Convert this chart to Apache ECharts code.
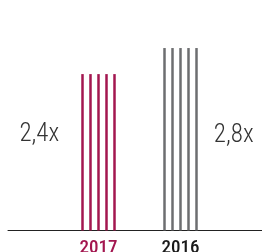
<!DOCTYPE html>
<html>
<head>
<meta charset="utf-8">
<script src="https://cdn.jsdelivr.net/npm/echarts@6/dist/echarts.min.js"></script>
<style>
  html, body { margin: 0; padding: 0; background: #fff; }
  #chart { width: 262px; height: 252px; }
</style>
</head>
<body>
<div id="chart"></div>
<script>
// years on the axis and the multiple for each
var years = ['2017', '2016']
var multiples = [2.4, 2.8]
var valueLabels = ['2,4x', '2,8x']
var yearColors = ['#a3164f', '#6d6e70']
var labelColors = ['#a3164f', '#1a1a1a']
var stripes = 5

var font = '"Roboto Condensed", Roboto, sans-serif'

var myChart = echarts.init(document.getElementById('chart'))

var series = []
for (var s = 0; s < stripes; s++) {
    var label = {show: false}
    if (s === 0) {
        // text left of the first group
        label = {
            show: true,
            position: 'left',
            distance: 22,
            offset: [0, -18],
            fontFamily: font,
            fontWeight: 300,
            fontSize: 25,
            color: '#333',
            formatter: function (p) { return p.dataIndex === 0 ? valueLabels[0] : '' }
        }
    }
    if (s === stripes - 1) {
        // text right of the second group
        label = {
            show: true,
            position: 'right',
            distance: 16,
            offset: [0, -4],
            fontFamily: font,
            fontWeight: 300,
            fontSize: 25,
            color: '#333',
            formatter: function (p) { return p.dataIndex === 1 ? valueLabels[1] : '' }
        }
    }
    series.push({
        type: 'bar',
        xAxisIndex: 0,
        yAxisIndex: 0,
        barWidth: 2.5,
        barGap: '220%',
        label: label,
        silent: true,
        data: multiples.map(function (v, i) {
            return {value: v, itemStyle: {color: yearColors[i]}}
        })
    })
}

myChart.setOption({
    animation: false,
    grid: [
        {left: 57.5, right: 40.5, top: 35, bottom: 21.5, outerBoundsMode: 'none'},
        // full width baseline
        {left: 8, right: 0, top: 35, bottom: 21.5, outerBoundsMode: 'none'}
    ],
    xAxis: [
        {
            type: 'category',
            gridIndex: 0,
            data: years,
            axisLine: {show: false},
            axisTick: {show: false},
            axisLabel: {
                margin: 8,
                fontFamily: font,
                fontSize: 19,
                fontWeight: 500,
                color: function (v, i) { return labelColors[i] }
            }
        },
        {
            type: 'category',
            gridIndex: 1,
            data: [''],
            axisLine: {show: true, lineStyle: {color: '#222', width: 1}},
            axisTick: {show: false},
            axisLabel: {show: false}
        }
    ],
    yAxis: [
        {type: 'value', gridIndex: 0, min: 0, max: 3, show: false},
        {type: 'value', gridIndex: 1, min: 0, max: 3, show: false}
    ],
    series: series
})
</script>
</body>
</html>
